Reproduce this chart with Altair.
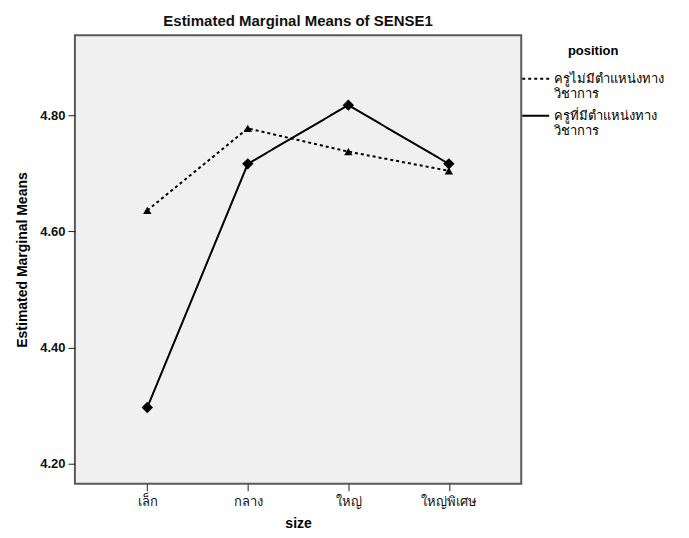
import altair as alt
import pandas as pd

sizes = ["เล็ก", "กลาง", "ใหญ่", "ใหญ่พิเศษ"]
groups = ["ครูไม่มีตำแหน่งทางวิชาการ", "ครูที่มีตำแหน่งทางวิชาการ"]
no_title_means = [4.636, 4.777, 4.737, 4.704]
with_title_means = [4.297, 4.716, 4.817, 4.716]
y_ticks = [4.20, 4.40, 4.60, 4.80]

rows = []
for s, v in zip(sizes, no_title_means):
    rows.append({"size": s, "position": groups[0], "mean": v})
for s, v in zip(sizes, with_title_means):
    rows.append({"size": s, "position": groups[1], "mean": v})
df = pd.DataFrame(rows)

FONT = "Liberation Sans"

x = alt.X("size:N", sort=sizes, title="size",
          scale=alt.Scale(type="point", padding=0.72),
          axis=alt.Axis(labelAngle=0, labelFontSize=13, labelFont=FONT, titleFont=FONT,
                        titleFontSize=14, titleFontWeight="bold", titlePadding=8,
                        tickSize=7, tickColor="#222", domain=False, labelPadding=5, labelColor="#111"))
y = alt.Y("mean:Q", title="Estimated Marginal Means",
          scale=alt.Scale(domain=[4.166, 4.937], nice=False, zero=False),
          axis=alt.Axis(values=y_ticks, format=".2f", labelFontSize=13, labelFontWeight="bold",
                        labelFont=FONT, titleFont=FONT, titleFontSize=14, titleFontWeight="bold",
                        tickSize=7, tickColor="#222", grid=False, domain=False, titlePadding=10,
                        labelPadding=3, labelColor="#111"))

lines = alt.Chart(df).mark_line(color="black", strokeWidth=2).encode(
    x=x, y=y,
    strokeDash=alt.StrokeDash("position:N",
        scale=alt.Scale(domain=groups, range=[[3, 3], [1, 0]]),
        legend=alt.Legend(title="position", orient="none", legendX=447, legendY=10,
                          titleFont=FONT, titleFontSize=13, titleFontWeight="bold",
                          titleAnchor="middle", titleAlign="center", titlePadding=6,
                          labelFont=FONT, labelFontSize=13, labelLimit=300, labelOffset=4,
                          symbolType="stroke", symbolSize=729, symbolStrokeWidth=2,
                          symbolStrokeColor="black", rowPadding=0, padding=0,
                          labelExpr="[substring(datum.label, 0, length(datum.label) - 7), substring(datum.label, length(datum.label) - 7)]")),
)

tri = alt.Chart(df).transform_filter(alt.datum.position == groups[0]).mark_point(
    filled=True, color="black", opacity=1, shape="triangle-up", size=70).encode(x=x, y=y)
dia = alt.Chart(df).transform_filter(alt.datum.position == groups[1]).mark_point(
    filled=True, color="black", opacity=1, shape="diamond", size=130).encode(x=x, y=y)

chart = (lines + tri + dia).properties(
    width=447, height=449,
    background="white",
    title=alt.Title("Estimated Marginal Means of SENSE1", font=FONT, fontSize=15,
                    fontWeight="bold", color="#111", offset=6),
    autosize=alt.AutoSizeParams(type="none"),
    padding={"left": 67, "top": 27, "right": 160, "bottom": 50},
).configure_view(fill="#F0F0F0", stroke="#5a5a5a", strokeWidth=2)

chart.save("out.html", embed_options={"renderer": "svg", "actions": False})
